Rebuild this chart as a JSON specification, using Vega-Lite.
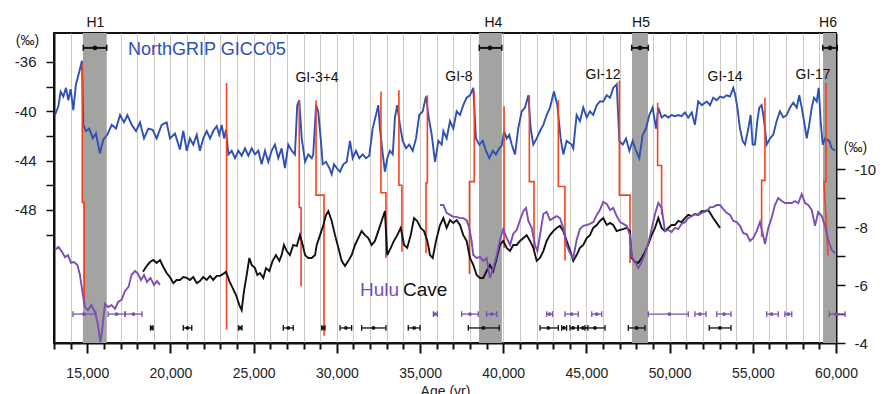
{
"$schema": "https://vega.github.io/schema/vega-lite/v6.json",
"width": 782, "height": 310,
"autosize": {"type": "none"},
"padding": {"left": 54, "top": 33, "right": 55, "bottom": 51},
"background": "white",
"config": {"font": "Liberation Sans", "view": {"stroke": "#111", "strokeWidth": 2}},
"datasets": {
"bands": [{"a":14740,"b":16170},{"a":38540,"b":39920},{"a":47740,"b":48700},{"a":59220,"b":60000}],
"ngrip": [
{"age":13060,"d":-40.3},{"age":13260,"d":-39.6},{"age":13400,"d":-38.4},{"age":13560,"d":-38.8},{"age":13720,"d":-38.1},{"age":13860,"d":-39.1},{"age":14000,"d":-38.2},{"age":14160,"d":-39.9},{"age":14320,"d":-37.8},{"age":14520,"d":-36.8},{"age":14680,"d":-35.9},{"age":14760,"d":-41.1},{"age":14920,"d":-41.6},{"age":15120,"d":-41.4},{"age":15330,"d":-42.2},{"age":15520,"d":-41.8},{"age":15760,"d":-43.4},{"age":15960,"d":-42.3},{"age":16200,"d":-41.9},{"age":16470,"d":-41.1},{"age":16730,"d":-41.4},{"age":16970,"d":-40.3},{"age":17210,"d":-40.9},{"age":17410,"d":-40.3},{"age":17670,"d":-41.1},{"age":17930,"d":-41.6},{"age":18170,"d":-40.9},{"age":18410,"d":-42.2},{"age":18670,"d":-41.4},{"age":18930,"d":-41.5},{"age":19170,"d":-42.2},{"age":19470,"d":-41.1},{"age":19770,"d":-40.9},{"age":19970,"d":-42.2},{"age":20270,"d":-41.8},{"age":20570,"d":-43.1},{"age":20770,"d":-41.6},{"age":20980,"d":-43.2},{"age":21170,"d":-42.2},{"age":21370,"d":-42.7},{"age":21580,"d":-41.9},{"age":21770,"d":-43.2},{"age":21970,"d":-42.2},{"age":22180,"d":-41.6},{"age":22380,"d":-42.2},{"age":22570,"d":-41.6},{"age":22780,"d":-41.2},{"age":22930,"d":-41.9},{"age":23080,"d":-41.1},{"age":23220,"d":-42.2},{"age":23340,"d":-41.5},{"age":23480,"d":-43.5},{"age":23680,"d":-43.2},{"age":23880,"d":-43.8},{"age":24080,"d":-43.2},{"age":24280,"d":-43.6},{"age":24480,"d":-43.0},{"age":24680,"d":-43.6},{"age":24880,"d":-43.0},{"age":25080,"d":-43.5},{"age":25280,"d":-43.2},{"age":25480,"d":-44.3},{"age":25680,"d":-43.2},{"age":25880,"d":-44.1},{"age":26080,"d":-43.2},{"age":26280,"d":-42.7},{"age":26480,"d":-43.8},{"age":26680,"d":-43.0},{"age":26880,"d":-44.6},{"age":27080,"d":-42.7},{"age":27290,"d":-43.2},{"age":27480,"d":-43.5},{"age":27620,"d":-39.5},{"age":27740,"d":-39.1},{"age":27890,"d":-42.2},{"age":28090,"d":-44.1},{"age":28280,"d":-43.5},{"age":28490,"d":-43.8},{"age":28580,"d":-43.5},{"age":28750,"d":-39.5},{"age":28880,"d":-40.0},{"age":29030,"d":-42.2},{"age":29150,"d":-44.3},{"age":29350,"d":-44.1},{"age":29550,"d":-44.6},{"age":29690,"d":-45.1},{"age":29830,"d":-44.3},{"age":29990,"d":-44.6},{"age":30190,"d":-44.9},{"age":30390,"d":-44.3},{"age":30590,"d":-44.1},{"age":30790,"d":-42.4},{"age":30950,"d":-43.8},{"age":31150,"d":-43.2},{"age":31350,"d":-43.8},{"age":31550,"d":-43.5},{"age":31750,"d":-43.8},{"age":31950,"d":-43.6},{"age":32150,"d":-41.4},{"age":32350,"d":-40.3},{"age":32490,"d":-39.5},{"age":32590,"d":-41.4},{"age":32760,"d":-43.5},{"age":32890,"d":-44.9},{"age":33030,"d":-43.8},{"age":33190,"d":-43.2},{"age":33360,"d":-43.5},{"age":33490,"d":-40.5},{"age":33630,"d":-39.5},{"age":33790,"d":-41.1},{"age":33960,"d":-42.4},{"age":34160,"d":-43.0},{"age":34350,"d":-42.7},{"age":34560,"d":-43.2},{"age":34760,"d":-42.2},{"age":34950,"d":-40.3},{"age":35160,"d":-40.0},{"age":35360,"d":-38.8},{"age":35520,"d":-40.5},{"age":35700,"d":-41.9},{"age":35900,"d":-44.1},{"age":36100,"d":-42.4},{"age":36300,"d":-42.7},{"age":36400,"d":-41.6},{"age":36600,"d":-42.2},{"age":36800,"d":-40.8},{"age":37000,"d":-41.4},{"age":37200,"d":-40.0},{"age":37400,"d":-40.3},{"age":37600,"d":-39.5},{"age":37800,"d":-38.9},{"age":38000,"d":-38.7},{"age":38200,"d":-38.1},{"age":38360,"d":-42.2},{"age":38560,"d":-42.7},{"age":38770,"d":-42.4},{"age":38960,"d":-43.2},{"age":39160,"d":-43.8},{"age":39370,"d":-43.2},{"age":39560,"d":-43.5},{"age":39760,"d":-43.0},{"age":39910,"d":-42.8},{"age":40050,"d":-41.6},{"age":40210,"d":-42.2},{"age":40360,"d":-41.9},{"age":40510,"d":-42.7},{"age":40710,"d":-43.5},{"age":40900,"d":-41.4},{"age":41110,"d":-40.0},{"age":41310,"d":-39.7},{"age":41510,"d":-38.7},{"age":41650,"d":-41.4},{"age":41810,"d":-42.7},{"age":42010,"d":-42.2},{"age":42210,"d":-41.6},{"age":42410,"d":-41.1},{"age":42610,"d":-40.3},{"age":42810,"d":-39.7},{"age":43050,"d":-38.4},{"age":43250,"d":-39.5},{"age":43450,"d":-42.2},{"age":43610,"d":-43.5},{"age":43810,"d":-42.4},{"age":44110,"d":-42.7},{"age":44210,"d":-43.0},{"age":44410,"d":-40.3},{"age":44610,"d":-40.8},{"age":44810,"d":-39.7},{"age":45020,"d":-40.5},{"age":45210,"d":-40.0},{"age":45410,"d":-40.3},{"age":45620,"d":-39.5},{"age":45810,"d":-39.2},{"age":46010,"d":-39.2},{"age":46220,"d":-38.7},{"age":46420,"d":-38.9},{"age":46610,"d":-38.1},{"age":46820,"d":-37.8},{"age":46980,"d":-42.4},{"age":47180,"d":-42.7},{"age":47380,"d":-42.2},{"age":47580,"d":-43.2},{"age":47780,"d":-42.4},{"age":47980,"d":-43.2},{"age":48180,"d":-43.8},{"age":48380,"d":-41.9},{"age":48580,"d":-41.4},{"age":48780,"d":-40.3},{"age":48980,"d":-39.7},{"age":49180,"d":-41.4},{"age":49320,"d":-39.7},{"age":49520,"d":-40.5},{"age":49720,"d":-40.3},{"age":49920,"d":-40.5},{"age":50120,"d":-40.3},{"age":50320,"d":-40.4},{"age":50520,"d":-40.3},{"age":50720,"d":-40.4},{"age":50920,"d":-40.1},{"age":51120,"d":-40.5},{"age":51330,"d":-40.1},{"age":51520,"d":-41.1},{"age":51720,"d":-39.2},{"age":51930,"d":-39.5},{"age":52230,"d":-39.2},{"age":52430,"d":-39.5},{"age":52620,"d":-38.9},{"age":52830,"d":-39.1},{"age":53030,"d":-38.8},{"age":53230,"d":-38.9},{"age":53430,"d":-38.7},{"age":53630,"d":-38.8},{"age":53830,"d":-38.1},{"age":53950,"d":-38.7},{"age":54070,"d":-39.7},{"age":54230,"d":-41.4},{"age":54390,"d":-42.4},{"age":54530,"d":-42.7},{"age":54730,"d":-41.4},{"age":54870,"d":-40.3},{"age":54990,"d":-42.7},{"age":55130,"d":-42.7},{"age":55270,"d":-40.8},{"age":55390,"d":-39.7},{"age":55530,"d":-39.5},{"age":55630,"d":-40.3},{"age":55730,"d":-41.4},{"age":55830,"d":-42.7},{"age":56030,"d":-42.2},{"age":56230,"d":-41.9},{"age":56430,"d":-40.8},{"age":56630,"d":-40.0},{"age":56830,"d":-40.5},{"age":57040,"d":-40.3},{"age":57230,"d":-39.7},{"age":57430,"d":-39.3},{"age":57640,"d":-39.7},{"age":57790,"d":-38.7},{"age":57940,"d":-39.7},{"age":58080,"d":-40.8},{"age":58240,"d":-42.2},{"age":58390,"d":-41.1},{"age":58540,"d":-39.7},{"age":58680,"d":-38.9},{"age":58840,"d":-39.2},{"age":58960,"d":-38.1},{"age":59080,"d":-40.8},{"age":59200,"d":-42.7},{"age":59340,"d":-42.2},{"age":59600,"d":-42.4},{"age":59740,"d":-43.0},{"age":59940,"d":-43.2}
],
"red": [
{"ev":1,"o":1,"age":14700,"d":-36.1},{"ev":1,"o":2,"age":14700,"d":-47.4},{"ev":1,"o":3,"age":14820,"d":-47.4},{"ev":1,"o":4,"age":14820,"d":-55.7},
{"ev":2,"o":1,"age":23370,"d":-37.7},{"ev":2,"o":2,"age":23370,"d":-57.7},
{"ev":3,"o":1,"age":27740,"d":-39.1},{"ev":3,"o":2,"age":27740,"d":-47.8},{"ev":3,"o":3,"age":27850,"d":-47.8},{"ev":3,"o":4,"age":27850,"d":-54.2},
{"ev":4,"o":1,"age":28750,"d":-39.1},{"ev":4,"o":2,"age":28750,"d":-46.8},{"ev":4,"o":3,"age":29230,"d":-46.8},{"ev":4,"o":4,"age":29230,"d":-58.2},
{"ev":5,"o":1,"age":32650,"d":-38.4},{"ev":5,"o":2,"age":32650,"d":-46.6},{"ev":5,"o":3,"age":32950,"d":-46.6},{"ev":5,"o":4,"age":32950,"d":-51.9},
{"ev":6,"o":1,"age":33730,"d":-38.3},{"ev":6,"o":2,"age":33730,"d":-46.0},{"ev":6,"o":3,"age":33910,"d":-46.0},{"ev":6,"o":4,"age":33910,"d":-51.4},
{"ev":7,"o":1,"age":35440,"d":-38.7},{"ev":7,"o":2,"age":35440,"d":-45.8},{"ev":7,"o":3,"age":35360,"d":-45.8},{"ev":7,"o":4,"age":35360,"d":-51.5},
{"ev":8,"o":1,"age":38260,"d":-38.4},{"ev":8,"o":2,"age":38260,"d":-45.7},{"ev":8,"o":3,"age":37970,"d":-45.7},{"ev":8,"o":4,"age":37970,"d":-53.2},
{"ev":9,"o":1,"age":40050,"d":-39.6},{"ev":9,"o":2,"age":40050,"d":-51.1},
{"ev":10,"o":1,"age":41570,"d":-38.7},{"ev":10,"o":2,"age":41570,"d":-45.7},{"ev":10,"o":3,"age":41850,"d":-45.7},{"ev":10,"o":4,"age":41850,"d":-51.3},
{"ev":11,"o":1,"age":43310,"d":-39.1},{"ev":11,"o":2,"age":43310,"d":-46.1},{"ev":11,"o":3,"age":43710,"d":-46.1},{"ev":11,"o":4,"age":43710,"d":-52.1},
{"ev":12,"o":1,"age":46980,"d":-37.5},{"ev":12,"o":2,"age":46980,"d":-46.8},{"ev":12,"o":3,"age":47620,"d":-46.8},{"ev":12,"o":4,"age":47620,"d":-52.3},
{"ev":13,"o":1,"age":49280,"d":-39.3},{"ev":13,"o":2,"age":49280,"d":-44.4},{"ev":13,"o":3,"age":49520,"d":-44.4},{"ev":13,"o":4,"age":49520,"d":-48.4},
{"ev":14,"o":1,"age":55730,"d":-38.9},{"ev":14,"o":2,"age":55730,"d":-45.6},{"ev":14,"o":3,"age":55530,"d":-45.6},{"ev":14,"o":4,"age":55530,"d":-50.2},
{"ev":15,"o":1,"age":59400,"d":-37.7},{"ev":15,"o":2,"age":59400,"d":-45.7},{"ev":15,"o":3,"age":59280,"d":-45.7},{"ev":15,"o":4,"age":59520,"d":-51.7}
],
"hulu": [
{"s":"p1","r":"p","age":13060,"d":-7.22},{"s":"p1","r":"p","age":13270,"d":-7.32},{"s":"p1","r":"p","age":13480,"d":-7.15},{"s":"p1","r":"p","age":13660,"d":-6.97},{"s":"p1","r":"p","age":13840,"d":-7.04},{"s":"p1","r":"p","age":14020,"d":-6.77},{"s":"p1","r":"p","age":14200,"d":-6.80},{"s":"p1","r":"p","age":14410,"d":-6.70},{"s":"p1","r":"p","age":14560,"d":-6.35},{"s":"p1","r":"p","age":14710,"d":-5.76},{"s":"p1","r":"p","age":14860,"d":-5.24},{"s":"p1","r":"p","age":15040,"d":-5.14},{"s":"p1","r":"p","age":15250,"d":-5.31},{"s":"p1","r":"p","age":15460,"d":-5.07},{"s":"p1","r":"p","age":15610,"d":-4.73},{"s":"p1","r":"p","age":15790,"d":-4.03},{"s":"p1","r":"p","age":15910,"d":-4.52},{"s":"p1","r":"p","age":16060,"d":-5.35},{"s":"p1","r":"p","age":16250,"d":-5.24},{"s":"p1","r":"p","age":16460,"d":-5.31},{"s":"p1","r":"p","age":16670,"d":-5.18},{"s":"p1","r":"p","age":16850,"d":-5.42},{"s":"p1","r":"p","age":17060,"d":-5.49},{"s":"p1","r":"p","age":17270,"d":-5.80},{"s":"p1","r":"p","age":17480,"d":-5.94},{"s":"p1","r":"p","age":17660,"d":-6.35},{"s":"p1","r":"p","age":17870,"d":-6.49},{"s":"p1","r":"p","age":18050,"d":-6.39},{"s":"p1","r":"p","age":18230,"d":-6.18},{"s":"p1","r":"p","age":18410,"d":-6.35},{"s":"p1","r":"p","age":18590,"d":-6.11},{"s":"p1","r":"p","age":18800,"d":-6.25},{"s":"p1","r":"p","age":19010,"d":-6.01},{"s":"p1","r":"p","age":19190,"d":-6.14},{"s":"p1","r":"p","age":19370,"d":-6.01},
{"s":"b","r":"b","age":18350,"d":-6.46},{"s":"b","r":"b","age":18570,"d":-6.66},{"s":"b","r":"b","age":18770,"d":-6.80},{"s":"b","r":"b","age":18970,"d":-6.87},{"s":"b","r":"b","age":19170,"d":-6.77},{"s":"b","r":"b","age":19370,"d":-6.87},{"s":"b","r":"b","age":19570,"d":-6.63},{"s":"b","r":"b","age":19770,"d":-6.42},{"s":"b","r":"b","age":19970,"d":-6.28},{"s":"b","r":"b","age":20170,"d":-6.07},{"s":"b","r":"b","age":20370,"d":-6.18},{"s":"b","r":"b","age":20570,"d":-6.18},{"s":"b","r":"b","age":20770,"d":-6.28},{"s":"b","r":"b","age":20980,"d":-6.25},{"s":"b","r":"b","age":21170,"d":-6.18},{"s":"b","r":"b","age":21370,"d":-6.28},{"s":"b","r":"b","age":21580,"d":-6.07},{"s":"b","r":"b","age":21770,"d":-6.14},{"s":"b","r":"b","age":21970,"d":-6.28},{"s":"b","r":"b","age":22180,"d":-6.18},{"s":"b","r":"b","age":22380,"d":-6.32},{"s":"b","r":"b","age":22570,"d":-6.18},{"s":"b","r":"b","age":22780,"d":-6.32},{"s":"b","r":"b","age":22980,"d":-6.32},{"s":"b","r":"b","age":23170,"d":-6.39},{"s":"b","r":"b","age":23340,"d":-6.46},{"s":"b","r":"b","age":23540,"d":-6.14},{"s":"b","r":"b","age":23740,"d":-5.90},{"s":"b","r":"b","age":23940,"d":-5.66},{"s":"b","r":"b","age":24140,"d":-5.31},{"s":"b","r":"b","age":24280,"d":-5.14},{"s":"b","r":"b","age":24420,"d":-5.80},{"s":"b","r":"b","age":24580,"d":-6.35},{"s":"b","r":"b","age":24740,"d":-6.94},{"s":"b","r":"b","age":24880,"d":-6.70},{"s":"b","r":"b","age":25080,"d":-6.59},{"s":"b","r":"b","age":25220,"d":-6.35},{"s":"b","r":"b","age":25380,"d":-6.42},{"s":"b","r":"b","age":25580,"d":-6.25},{"s":"b","r":"b","age":25740,"d":-6.59},{"s":"b","r":"b","age":25940,"d":-6.49},{"s":"b","r":"b","age":26140,"d":-6.84},{"s":"b","r":"b","age":26340,"d":-7.04},{"s":"b","r":"b","age":26540,"d":-6.84},{"s":"b","r":"b","age":26680,"d":-7.04},{"s":"b","r":"b","age":26820,"d":-7.39},{"s":"b","r":"b","age":26990,"d":-7.18},{"s":"b","r":"b","age":27180,"d":-7.04},{"s":"b","r":"b","age":27380,"d":-7.39},{"s":"b","r":"b","age":27590,"d":-7.35},{"s":"b","r":"b","age":27780,"d":-7.73},{"s":"b","r":"b","age":27950,"d":-7.39},{"s":"b","r":"b","age":28090,"d":-7.04},{"s":"b","r":"b","age":28280,"d":-6.94},{"s":"b","r":"b","age":28490,"d":-6.94},{"s":"b","r":"b","age":28690,"d":-7.04},{"s":"b","r":"b","age":28790,"d":-7.39},{"s":"b","r":"b","age":28990,"d":-7.73},{"s":"b","r":"b","age":29190,"d":-8.08},{"s":"b","r":"b","age":29350,"d":-8.43},{"s":"b","r":"b","age":29490,"d":-8.56},{"s":"b","r":"b","age":29690,"d":-8.22},{"s":"b","r":"b","age":29890,"d":-7.73},{"s":"b","r":"b","age":30090,"d":-7.29},{"s":"b","r":"b","age":30290,"d":-6.84},{"s":"b","r":"b","age":30490,"d":-6.66},{"s":"b","r":"b","age":30690,"d":-6.84},{"s":"b","r":"b","age":30890,"d":-7.04},{"s":"b","r":"b","age":31090,"d":-7.39},{"s":"b","r":"b","age":31290,"d":-7.63},{"s":"b","r":"b","age":31490,"d":-7.87},{"s":"b","r":"b","age":31690,"d":-7.73},{"s":"b","r":"b","age":31890,"d":-7.63},{"s":"b","r":"b","age":32090,"d":-7.39},{"s":"b","r":"b","age":32290,"d":-7.53},{"s":"b","r":"b","age":32490,"d":-7.87},{"s":"b","r":"b","age":32690,"d":-8.22},{"s":"b","r":"b","age":32890,"d":-8.56},{"s":"b","r":"b","age":33030,"d":-7.04},{"s":"b","r":"b","age":33240,"d":-7.29},{"s":"b","r":"b","age":33430,"d":-7.53},{"s":"b","r":"b","age":33630,"d":-7.73},{"s":"b","r":"b","age":33840,"d":-7.98},{"s":"b","r":"b","age":34040,"d":-7.39},{"s":"b","r":"b","age":34230,"d":-7.29},{"s":"b","r":"b","age":34440,"d":-7.73},{"s":"b","r":"b","age":34640,"d":-8.32},{"s":"b","r":"b","age":34830,"d":-8.22},{"s":"b","r":"b","age":35040,"d":-7.98},{"s":"b","r":"b","age":35240,"d":-7.87},{"s":"b","r":"b","age":35440,"d":-7.53},{"s":"b","r":"b","age":35600,"d":-7.04},{"s":"b","r":"b","age":35760,"d":-6.94},{"s":"b","r":"b","age":35960,"d":-7.53},{"s":"b","r":"b","age":36200,"d":-8.08},{"s":"b","r":"b","age":36400,"d":-8.32},{"s":"b","r":"b","age":36600,"d":-7.98},{"s":"b","r":"b","age":36800,"d":-8.25},{"s":"b","r":"b","age":37000,"d":-8.15},{"s":"b","r":"b","age":37200,"d":-8.25},{"s":"b","r":"b","age":37400,"d":-8.08},{"s":"b","r":"b","age":37600,"d":-7.73},{"s":"b","r":"b","age":37800,"d":-7.53},{"s":"b","r":"b","age":38000,"d":-6.94},{"s":"b","r":"b","age":38200,"d":-6.70},{"s":"b","r":"b","age":38400,"d":-6.35},{"s":"b","r":"b","age":38600,"d":-6.25},{"s":"b","r":"b","age":38800,"d":-6.25},{"s":"b","r":"b","age":39000,"d":-6.49},{"s":"b","r":"b","age":39200,"d":-6.70},{"s":"b","r":"b","age":39400,"d":-6.49},{"s":"b","r":"b","age":39610,"d":-6.94},{"s":"b","r":"b","age":39800,"d":-7.39},{"s":"b","r":"b","age":40000,"d":-7.53},{"s":"b","r":"b","age":40210,"d":-7.29},{"s":"b","r":"b","age":40410,"d":-7.18},{"s":"b","r":"b","age":40600,"d":-7.39},{"s":"b","r":"b","age":40810,"d":-7.39},{"s":"b","r":"b","age":41010,"d":-7.53},{"s":"b","r":"b","age":41210,"d":-7.63},{"s":"b","r":"b","age":41410,"d":-7.73},{"s":"b","r":"b","age":41610,"d":-7.53},{"s":"b","r":"b","age":41810,"d":-7.29},{"s":"b","r":"b","age":42010,"d":-6.84},{"s":"b","r":"b","age":42210,"d":-6.94},{"s":"b","r":"b","age":42410,"d":-7.18},{"s":"b","r":"b","age":42610,"d":-7.53},{"s":"b","r":"b","age":42810,"d":-7.73},{"s":"b","r":"b","age":43010,"d":-7.87},{"s":"b","r":"b","age":43210,"d":-7.98},{"s":"b","r":"b","age":43410,"d":-8.05},{"s":"b","r":"b","age":43610,"d":-7.87},{"s":"b","r":"b","age":43810,"d":-7.53},{"s":"b","r":"b","age":44110,"d":-7.04},{"s":"b","r":"b","age":44210,"d":-6.84},{"s":"b","r":"b","age":44410,"d":-7.04},{"s":"b","r":"b","age":44610,"d":-7.29},{"s":"b","r":"b","age":44810,"d":-7.39},{"s":"b","r":"b","age":45020,"d":-7.63},{"s":"b","r":"b","age":45210,"d":-7.73},{"s":"b","r":"b","age":45410,"d":-7.98},{"s":"b","r":"b","age":45620,"d":-8.08},{"s":"b","r":"b","age":45810,"d":-8.22},{"s":"b","r":"b","age":46010,"d":-8.32},{"s":"b","r":"b","age":46220,"d":-8.08},{"s":"b","r":"b","age":46420,"d":-8.15},{"s":"b","r":"b","age":46610,"d":-8.08},{"s":"b","r":"b","age":46820,"d":-7.87},{"s":"b","r":"b","age":47020,"d":-7.91},{"s":"b","r":"b","age":47220,"d":-7.94},{"s":"b","r":"b","age":47420,"d":-7.98},{"s":"b","r":"b","age":47620,"d":-7.87},{"s":"b","r":"b","age":47720,"d":-6.94},{"s":"b","r":"b","age":47920,"d":-6.80},{"s":"b","r":"b","age":48120,"d":-6.77},{"s":"b","r":"b","age":48320,"d":-6.94},{"s":"b","r":"b","age":48520,"d":-7.15},{"s":"b","r":"b","age":48720,"d":-7.42},{"s":"b","r":"b","age":48920,"d":-7.73},{"s":"b","r":"b","age":49120,"d":-7.98},{"s":"b","r":"b","age":49320,"d":-8.32},{"s":"b","r":"b","age":49520,"d":-7.98},{"s":"b","r":"b","age":49720,"d":-7.87},{"s":"b","r":"b","age":49920,"d":-7.98},{"s":"b","r":"b","age":50120,"d":-8.08},{"s":"b","r":"b","age":50320,"d":-8.08},{"s":"b","r":"b","age":50520,"d":-8.22},{"s":"b","r":"b","age":50720,"d":-8.18},{"s":"b","r":"b","age":50920,"d":-8.32},{"s":"b","r":"b","age":51120,"d":-8.43},{"s":"b","r":"b","age":51330,"d":-8.39},{"s":"b","r":"b","age":51520,"d":-8.46},{"s":"b","r":"b","age":51720,"d":-8.43},{"s":"b","r":"b","age":51930,"d":-8.56},{"s":"b","r":"b","age":52130,"d":-8.56},{"s":"b","r":"b","age":52320,"d":-8.60},{"s":"b","r":"b","age":52620,"d":-8.32},{"s":"b","r":"b","age":53030,"d":-7.98},
{"s":"p2","r":"p","age":36200,"d":-8.77},{"s":"p2","r":"p","age":36400,"d":-8.77},{"s":"p2","r":"p","age":36600,"d":-8.50},{"s":"p2","r":"p","age":36800,"d":-8.43},{"s":"p2","r":"p","age":37000,"d":-8.36},{"s":"p2","r":"p","age":37200,"d":-8.36},{"s":"p2","r":"p","age":37400,"d":-8.32},{"s":"p2","r":"p","age":37600,"d":-8.32},{"s":"p2","r":"p","age":37800,"d":-8.25},{"s":"p2","r":"p","age":37960,"d":-7.98},{"s":"p2","r":"p","age":38100,"d":-7.53},{"s":"p2","r":"p","age":38200,"d":-7.04},{"s":"p2","r":"p","age":38400,"d":-6.94},{"s":"p2","r":"p","age":38600,"d":-6.97},{"s":"p2","r":"p","age":38800,"d":-6.84},{"s":"p2","r":"p","age":39000,"d":-6.94},{"s":"p2","r":"p","age":39200,"d":-6.25},{"s":"p2","r":"p","age":39400,"d":-6.59},{"s":"p2","r":"p","age":39610,"d":-7.04},{"s":"p2","r":"p","age":39800,"d":-7.56},{"s":"p2","r":"p","age":40000,"d":-7.94},{"s":"p2","r":"p","age":40210,"d":-7.63},{"s":"p2","r":"p","age":40410,"d":-7.39},{"s":"p2","r":"p","age":40600,"d":-7.77},{"s":"p2","r":"p","age":40810,"d":-7.91},{"s":"p2","r":"p","age":41010,"d":-8.25},{"s":"p2","r":"p","age":41210,"d":-8.56},{"s":"p2","r":"p","age":41370,"d":-8.67},{"s":"p2","r":"p","age":41510,"d":-8.22},{"s":"p2","r":"p","age":41710,"d":-7.98},{"s":"p2","r":"p","age":41910,"d":-7.39},{"s":"p2","r":"p","age":42050,"d":-7.18},{"s":"p2","r":"p","age":42210,"d":-7.73},{"s":"p2","r":"p","age":42410,"d":-8.46},{"s":"p2","r":"p","age":42610,"d":-8.53},{"s":"p2","r":"p","age":42810,"d":-8.25},{"s":"p2","r":"p","age":43010,"d":-8.32},{"s":"p2","r":"p","age":43210,"d":-8.39},{"s":"p2","r":"p","age":43410,"d":-8.32},{"s":"p2","r":"p","age":43610,"d":-7.98},{"s":"p2","r":"p","age":43810,"d":-7.39},{"s":"p2","r":"p","age":44010,"d":-7.11},{"s":"p2","r":"p","age":44210,"d":-6.94},{"s":"p2","r":"p","age":44410,"d":-7.56},{"s":"p2","r":"p","age":44610,"d":-7.94},{"s":"p2","r":"p","age":44810,"d":-8.05},{"s":"p2","r":"p","age":45020,"d":-8.08},{"s":"p2","r":"p","age":45210,"d":-8.12},{"s":"p2","r":"p","age":45410,"d":-8.18},{"s":"p2","r":"p","age":45620,"d":-8.43},{"s":"p2","r":"p","age":45810,"d":-8.60},{"s":"p2","r":"p","age":46010,"d":-8.88},{"s":"p2","r":"p","age":46220,"d":-8.81},{"s":"p2","r":"p","age":46420,"d":-8.60},{"s":"p2","r":"p","age":46610,"d":-8.67},{"s":"p2","r":"p","age":46820,"d":-8.39},{"s":"p2","r":"p","age":47020,"d":-8.18},{"s":"p2","r":"p","age":47220,"d":-8.12},{"s":"p2","r":"p","age":47420,"d":-8.05},{"s":"p2","r":"p","age":47620,"d":-7.73},{"s":"p2","r":"p","age":47720,"d":-7.01},{"s":"p2","r":"p","age":47920,"d":-6.80},{"s":"p2","r":"p","age":48120,"d":-6.59},{"s":"p2","r":"p","age":48320,"d":-6.80},{"s":"p2","r":"p","age":48520,"d":-7.08},{"s":"p2","r":"p","age":48720,"d":-7.46},{"s":"p2","r":"p","age":48920,"d":-7.94},{"s":"p2","r":"p","age":49120,"d":-8.46},{"s":"p2","r":"p","age":49320,"d":-8.84},{"s":"p2","r":"p","age":49520,"d":-8.67},{"s":"p2","r":"p","age":49720,"d":-7.87},{"s":"p2","r":"p","age":49920,"d":-7.91},{"s":"p2","r":"p","age":50120,"d":-7.84},{"s":"p2","r":"p","age":50320,"d":-7.98},{"s":"p2","r":"p","age":50520,"d":-7.94},{"s":"p2","r":"p","age":50720,"d":-8.12},{"s":"p2","r":"p","age":50920,"d":-8.18},{"s":"p2","r":"p","age":51120,"d":-8.32},{"s":"p2","r":"p","age":51330,"d":-8.39},{"s":"p2","r":"p","age":51520,"d":-8.46},{"s":"p2","r":"p","age":51720,"d":-8.43},{"s":"p2","r":"p","age":51930,"d":-8.50},{"s":"p2","r":"p","age":52230,"d":-8.56},{"s":"p2","r":"p","age":52430,"d":-8.70},{"s":"p2","r":"p","age":52620,"d":-8.70},{"s":"p2","r":"p","age":52830,"d":-8.77},{"s":"p2","r":"p","age":53030,"d":-8.77},{"s":"p2","r":"p","age":53230,"d":-8.63},{"s":"p2","r":"p","age":53430,"d":-8.50},{"s":"p2","r":"p","age":53630,"d":-8.43},{"s":"p2","r":"p","age":53830,"d":-8.22},{"s":"p2","r":"p","age":54030,"d":-8.18},{"s":"p2","r":"p","age":54230,"d":-8.05},{"s":"p2","r":"p","age":54430,"d":-7.80},{"s":"p2","r":"p","age":54630,"d":-7.77},{"s":"p2","r":"p","age":54830,"d":-7.53},{"s":"p2","r":"p","age":55030,"d":-7.63},{"s":"p2","r":"p","age":55230,"d":-7.87},{"s":"p2","r":"p","age":55430,"d":-8.18},{"s":"p2","r":"p","age":55630,"d":-7.70},{"s":"p2","r":"p","age":55730,"d":-7.42},{"s":"p2","r":"p","age":55930,"d":-7.98},{"s":"p2","r":"p","age":56130,"d":-8.32},{"s":"p2","r":"p","age":56330,"d":-8.77},{"s":"p2","r":"p","age":56530,"d":-9.01},{"s":"p2","r":"p","age":56740,"d":-8.91},{"s":"p2","r":"p","age":56930,"d":-8.84},{"s":"p2","r":"p","age":57130,"d":-8.84},{"s":"p2","r":"p","age":57340,"d":-8.84},{"s":"p2","r":"p","age":57530,"d":-8.91},{"s":"p2","r":"p","age":57730,"d":-8.84},{"s":"p2","r":"p","age":57940,"d":-9.15},{"s":"p2","r":"p","age":58140,"d":-8.84},{"s":"p2","r":"p","age":58330,"d":-8.77},{"s":"p2","r":"p","age":58540,"d":-8.60},{"s":"p2","r":"p","age":58740,"d":-8.05},{"s":"p2","r":"p","age":58930,"d":-8.53},{"s":"p2","r":"p","age":59140,"d":-8.39},{"s":"p2","r":"p","age":59340,"d":-8.05},{"s":"p2","r":"p","age":59540,"d":-7.56},{"s":"p2","r":"p","age":59740,"d":-7.22},{"s":"p2","r":"p","age":59940,"d":-7.11}
],
"eb": [
{"row":"p","lo":14140,"c":14800,"hi":15520},{"row":"p","lo":16250,"c":16760,"hi":17270},{"row":"p","lo":17270,"c":17780,"hi":18290},{"row":"p","lo":35800,"c":35900,"hi":36040},{"row":"p","lo":37500,"c":38000,"hi":38500},{"row":"p","lo":39000,"c":39310,"hi":39610},{"row":"p","lo":42610,"c":42780,"hi":42960},{"row":"p","lo":43710,"c":44110,"hi":44510},{"row":"p","lo":45320,"c":45620,"hi":45920},{"row":"p","lo":48720,"c":49990,"hi":51120},{"row":"p","lo":51520,"c":51820,"hi":52190},{"row":"p","lo":52830,"c":53270,"hi":53690},{"row":"p","lo":55830,"c":56130,"hi":56530},{"row":"p","lo":56930,"c":57130,"hi":57340},{"row":"p","lo":59600,"c":60000,"hi":60540},
{"row":"b","lo":18800,"c":18870,"hi":18950},{"row":"b","lo":20770,"c":21020,"hi":21280},{"row":"b","lo":24090,"c":24190,"hi":24300},{"row":"b","lo":26780,"c":27080,"hi":27380},{"row":"b","lo":29090,"c":29190,"hi":29290},{"row":"b","lo":30190,"c":30550,"hi":30890},{"row":"b","lo":31490,"c":32200,"hi":32950},{"row":"b","lo":34290,"c":34640,"hi":35000},{"row":"b","lo":37900,"c":38800,"hi":39760},{"row":"b","lo":42210,"c":42710,"hi":43310},{"row":"b","lo":43510,"c":43650,"hi":43810},{"row":"b","lo":44010,"c":44190,"hi":44500},{"row":"b","lo":44500,"c":44790,"hi":45090},{"row":"b","lo":44910,"c":45510,"hi":46120},{"row":"b","lo":47520,"c":48020,"hi":48520},{"row":"b","lo":52380,"c":53030,"hi":53690},
{"row":"h","lo":14760,"c":15460,"hi":16170},{"row":"h","lo":38560,"c":39200,"hi":39910},{"row":"h","lo":47720,"c":48220,"hi":48720},{"row":"h","lo":59200,"c":59640,"hi":60080}
]
},
"layer": [
{"layer": [
 {"data": {"name": "bands"}, "mark": {"type": "rect", "color": "#a3a3a1"},
  "encoding": {
   "x": {"field": "a", "type": "quantitative", "scale": {"domain": [13000, 60000], "nice": false, "zero": false},
     "axis": {"title": "Age (yr)", "tickCount": 100, "values": [13000,14000,15000,16000,17000,18000,19000,20000,21000,22000,23000,24000,25000,26000,27000,28000,29000,30000,31000,32000,33000,34000,35000,36000,37000,38000,39000,40000,41000,42000,43000,44000,45000,46000,47000,48000,49000,50000,51000,52000,53000,54000,55000,56000,57000,58000,59000,60000],
       "labelExpr": "datum.value % 5000 === 0 ? format(datum.value, ',') : ''",
       "labelOverlap": false, "labelFlush": false, "labelFontSize": 14, "labelColor": "#222", "labelPadding": 13,
       "grid": true, "gridColor": "#d0cac5", "gridWidth": 1,
       "domainColor": "#111", "domainWidth": 2, "tickColor": "#111", "tickWidth": 2,
       "tickSize": {"condition": {"test": "datum.value % 5000 === 0", "value": 10}, "value": 6},
       "titleFontSize": 14, "titleFontWeight": "normal", "titleColor": "#222", "titleY": 41, "titleBaseline": "top"}},
   "x2": {"field": "b"}}},
 {"data": {"name": "ngrip"}, "mark": {"type": "line", "color": "#2f50b4", "strokeWidth": 1.9},
  "encoding": {
   "x": {"field": "age", "type": "quantitative", "scale": {"domain": [13000, 60000], "nice": false, "zero": false}},
   "y": {"field": "d", "type": "quantitative", "scale": {"domain": [-58.79, -33.65], "nice": false, "zero": false},
     "axis": {"orient": "left", "title": "(‰)", "titleAngle": 0, "titleX": -27, "titleY": 7, "titleAlign": "center", "titleBaseline": "middle", "titleFontSize": 14, "titleFontWeight": "normal", "titleColor": "#222",
       "tickCount": 20, "values": [-36,-38,-40,-42,-44,-46,-48,-50], "labelExpr": "datum.value % 4 === 0 ? '-' + abs(datum.value) : ''",
       "labelFontSize": 15, "labelColor": "#222", "labelPadding": 10, "tickSize": 8, "tickWidth": 1.5, "tickColor": "#111", "domainColor": "#111", "domainWidth": 2, "grid": false}}}},
 {"data": {"name": "red"}, "mark": {"type": "line", "color": "#f5421f", "strokeWidth": 1.6},
  "encoding": {
   "x": {"field": "age", "type": "quantitative", "scale": {"domain": [13000, 60000], "nice": false, "zero": false}},
   "y": {"field": "d", "type": "quantitative", "scale": {"domain": [-58.79, -33.65], "nice": false, "zero": false}},
   "detail": {"field": "ev", "type": "nominal"}, "order": {"field": "o", "type": "quantitative"}}},
 {"data": {"name": "eb"}, "transform": [{"filter": "datum.row === 'h'"}], "mark": {"type": "rule", "color": "#111", "strokeWidth": 2},
  "encoding": {"x": {"field": "lo", "type": "quantitative"}, "x2": {"field": "hi"}, "y": {"datum": -34.86, "type": "quantitative"}}},
 {"data": {"name": "eb"}, "transform": [{"filter": "datum.row === 'h'"}, {"fold": ["lo", "hi"], "as": ["k", "v"]}], "mark": {"type": "rule", "color": "#111", "strokeWidth": 1.5},
  "encoding": {"x": {"field": "v", "type": "quantitative"}, "y": {"datum": -35.1, "type": "quantitative"}, "y2": {"datum": -34.6}}},
 {"data": {"name": "eb"}, "transform": [{"filter": "datum.row === 'h'"}], "mark": {"type": "point", "filled": true, "color": "#111", "size": 22, "opacity": 1},
  "encoding": {"x": {"field": "c", "type": "quantitative"}, "y": {"datum": -34.86, "type": "quantitative"}}},
 {"data": {"values": [{"t": "NorthGRIP GICC05", "age": 17450, "d": -35.03}]}, "mark": {"type": "text", "align": "left", "baseline": "middle", "fontSize": 18, "color": "#2f50b4"},
  "encoding": {"x": {"field": "age", "type": "quantitative"}, "y": {"field": "d", "type": "quantitative"}, "text": {"field": "t"}}},
 {"data": {"values": [{"t": "GI-3+4", "age": 28810, "d": -37.3}, {"t": "GI-8", "age": 37340, "d": -37.22}, {"t": "GI-12", "age": 46000, "d": -37.05}, {"t": "GI-14", "age": 53330, "d": -37.22}, {"t": "GI-17", "age": 58620, "d": -37.05}]},
  "mark": {"type": "text", "align": "center", "baseline": "middle", "fontSize": 14, "color": "#111"},
  "encoding": {"x": {"field": "age", "type": "quantitative"}, "y": {"field": "d", "type": "quantitative"}, "text": {"field": "t"}}},
 {"data": {"values": [{"t": "H1", "age": 15490, "d": -32.8}, {"t": "H4", "age": 39410, "d": -32.8}, {"t": "H5", "age": 48280, "d": -32.8}, {"t": "H6", "age": 59520, "d": -32.8}]},
  "mark": {"type": "text", "align": "center", "baseline": "middle", "fontSize": 14, "color": "#111"},
  "encoding": {"x": {"field": "age", "type": "quantitative"}, "y": {"field": "d", "type": "quantitative"}, "text": {"field": "t"}}},
 {"data": {"values": [{"t": "Hulu", "age": 31390, "d": -54.49}]}, "mark": {"type": "text", "align": "left", "baseline": "middle", "fontSize": 19, "color": "#7b4fb5"},
  "encoding": {"x": {"field": "age", "type": "quantitative"}, "y": {"field": "d", "type": "quantitative"}, "text": {"field": "t"}}},
 {"data": {"values": [{"t": "Cave", "age": 33970, "d": -54.49}]}, "mark": {"type": "text", "align": "left", "baseline": "middle", "fontSize": 19, "color": "#111"},
  "encoding": {"x": {"field": "age", "type": "quantitative"}, "y": {"field": "d", "type": "quantitative"}, "text": {"field": "t"}}}
]},
{"layer": [
 {"data": {"name": "hulu"}, "mark": {"type": "line", "strokeWidth": 1.9},
  "encoding": {
   "x": {"field": "age", "type": "quantitative", "scale": {"domain": [13000, 60000], "nice": false, "zero": false}},
   "y": {"field": "d", "type": "quantitative", "scale": {"domain": [-14.72, -4], "nice": false, "zero": false, "reverse": true},
     "axis": {"orient": "right", "title": "(‰)", "titleAngle": 0, "titleX": 19, "titleY": 114, "titleAlign": "center", "titleBaseline": "middle", "titleFontSize": 14, "titleFontWeight": "normal", "titleColor": "#222",
       "tickCount": 20, "values": [-10,-9,-8,-7,-6,-5,-4], "labelExpr": "datum.value % 2 === 0 ? '-' + abs(datum.value) : ''",
       "labelFontSize": 15, "labelColor": "#222", "labelPadding": 9, "tickSize": 9, "tickWidth": 1.5, "tickColor": "#111", "domainColor": "#111", "domainWidth": 2, "grid": false}},
   "color": {"field": "r", "type": "nominal", "scale": {"domain": ["p", "b"], "range": ["#7b4fb5", "#111111"]}, "legend": null},
   "detail": {"field": "s", "type": "nominal"}}},
 {"data": {"name": "eb"}, "transform": [{"filter": "datum.row === 'p'"}], "mark": {"type": "rule", "color": "#7b4fb5", "strokeWidth": 1.3},
  "encoding": {"x": {"field": "lo", "type": "quantitative"}, "x2": {"field": "hi"}, "y": {"datum": -5.0, "type": "quantitative"}}},
 {"data": {"name": "eb"}, "transform": [{"filter": "datum.row === 'p'"}, {"fold": ["lo", "hi"], "as": ["k", "v"]}], "mark": {"type": "rule", "color": "#7b4fb5", "strokeWidth": 1.3},
  "encoding": {"x": {"field": "v", "type": "quantitative"}, "y": {"datum": -5.1, "type": "quantitative"}, "y2": {"datum": -4.9}}},
 {"data": {"name": "eb"}, "transform": [{"filter": "datum.row === 'p'"}], "mark": {"type": "point", "filled": true, "color": "#7b4fb5", "size": 14, "opacity": 1},
  "encoding": {"x": {"field": "c", "type": "quantitative"}, "y": {"datum": -5.0, "type": "quantitative"}}},
 {"data": {"name": "eb"}, "transform": [{"filter": "datum.row === 'b'"}], "mark": {"type": "rule", "color": "#111", "strokeWidth": 1.3},
  "encoding": {"x": {"field": "lo", "type": "quantitative"}, "x2": {"field": "hi"}, "y": {"datum": -4.52, "type": "quantitative"}}},
 {"data": {"name": "eb"}, "transform": [{"filter": "datum.row === 'b'"}, {"fold": ["lo", "hi"], "as": ["k", "v"]}], "mark": {"type": "rule", "color": "#111", "strokeWidth": 1.3},
  "encoding": {"x": {"field": "v", "type": "quantitative"}, "y": {"datum": -4.62, "type": "quantitative"}, "y2": {"datum": -4.42}}},
 {"data": {"name": "eb"}, "transform": [{"filter": "datum.row === 'b'"}], "mark": {"type": "point", "filled": true, "color": "#111", "size": 14, "opacity": 1},
  "encoding": {"x": {"field": "c", "type": "quantitative"}, "y": {"datum": -4.52, "type": "quantitative"}}}
]}
],
"resolve": {"scale": {"y": "independent"}, "axis": {"y": "independent"}}
}
